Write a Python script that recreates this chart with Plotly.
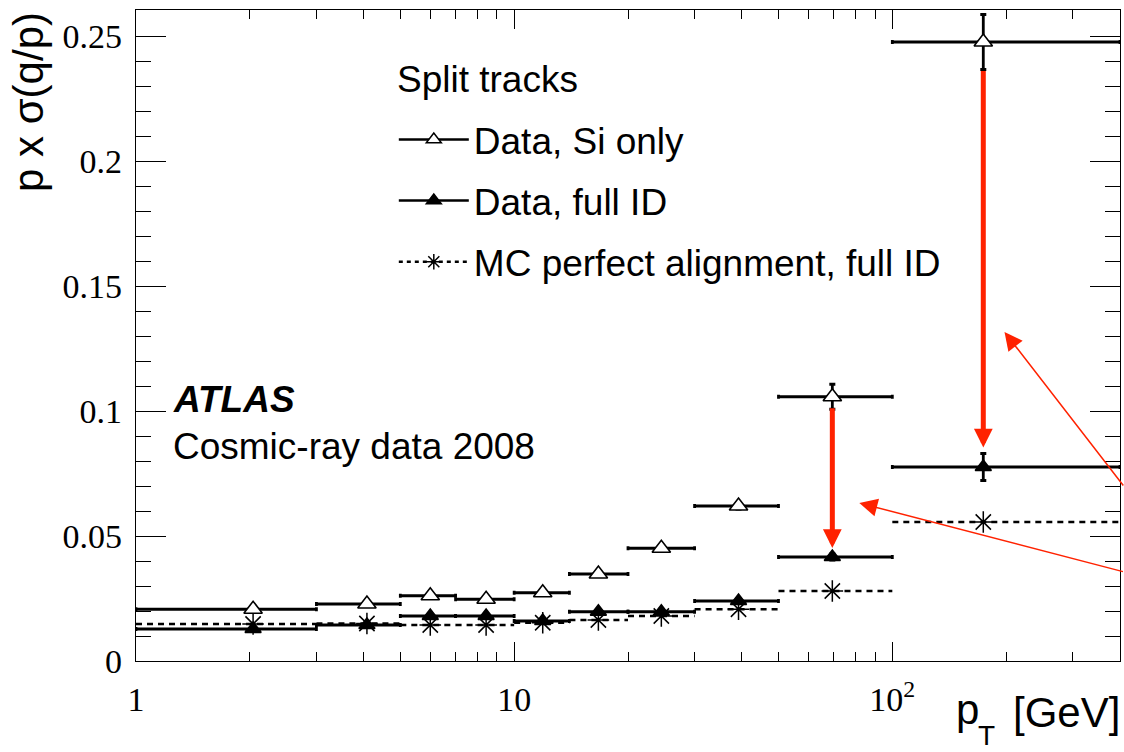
import numpy as np
import plotly.graph_objects as go

# pT bins [GeV] and the mean pT of the tracks in each bin
bin_lo = [1, 3, 5, 7, 10, 14, 20, 30, 50, 100]
bin_hi = [3, 5, 7, 10, 14, 20, 30, 50, 100, 400]
pt_mean = [2.04, 4.08, 6.0, 8.43, 11.9, 16.7, 24.5, 39.2, 69.4, 174]

# p x sigma(q/p) for the split-track samples
si_only = [0.0207, 0.0228, 0.0261, 0.0247, 0.0273, 0.0348, 0.0451, 0.0620, 0.1057, 0.2476]
si_only_err = [0.0006, 0.0006, 0.0006, 0.0006, 0.0007, 0.0008, 0.0010, 0.0012, 0.0050, 0.0110]
full_id = [0.0128, 0.0144, 0.0180, 0.0180, 0.0160, 0.0197, 0.0197, 0.0240, 0.0416, 0.0776]
full_id_err = [0.0005, 0.0005, 0.0005, 0.0005, 0.0005, 0.0006, 0.0006, 0.0008, 0.0012, 0.0054]
mc_full_id = [0.0148, 0.0150, 0.0144, 0.0144, 0.0153, 0.0164, 0.0180, 0.0207, 0.0280, 0.0556]

# bins where the Si-only -> full-ID improvement is highlighted
highlight_bins = [8, 9]

SANS = "Liberation Sans"
SERIF = "Liberation Serif"
RED = "#ff2200"
FS = 37
TITLE_FS = 42

xm = np.array(pt_mean)
ex_minus = xm - np.array(bin_lo)
ex_plus = np.array(bin_hi) - xm

fig = go.Figure()

# dashed bin-width lines for the MC sample
seg_x, seg_y = [], []
for lo, hi, v in zip(bin_lo, bin_hi, mc_full_id):
    seg_x += [lo, hi, None]
    seg_y += [v, v, None]
fig.add_trace(go.Scatter(x=seg_x, y=seg_y, mode="lines",
                         line=dict(color="black", width=2.5, dash="6px,5px"),
                         showlegend=False, hoverinfo="skip"))
fig.add_trace(go.Scatter(x=pt_mean, y=mc_full_id, mode="markers",
                         marker=dict(symbol="asterisk-open", size=18, color="black",
                                     line=dict(color="black", width=1.5)),
                         showlegend=False))

def data_trace(y, ey, fill, size):
    return go.Scatter(
        x=pt_mean, y=y, mode="markers",
        marker=dict(symbol="triangle-up", size=size, color=fill,
                    line=dict(color="black", width=1.6)),
        error_x=dict(type="data", symmetric=False, array=ex_plus, arrayminus=ex_minus,
                     color="black", thickness=2.8, width=2),
        error_y=dict(type="data", array=ey, color="black", thickness=2.8, width=3),
        showlegend=False)

fig.add_trace(data_trace(full_id, full_id_err, "black", 14))
fig.add_trace(data_trace(si_only, si_only_err, "white", 16))

# legend entries
legend_items = [
    ("Data, Si only", "triangle-up", "white", "solid"),
    ("Data, full ID", "triangle-up", "black", "solid"),
    ("MC perfect alignment, full ID", "asterisk-open", "black", "4px,4px"),
]
for i, (name, sym, col, dash) in enumerate(legend_items):
    fig.add_trace(go.Scatter(
        x=[None], y=[None], mode="lines+markers", name=name, legendgroup=str(i),
        line=dict(color="black", width=2.5, dash=dash),
        marker=dict(symbol=sym, size=13, color=col, line=dict(color="black", width=1.5))))

annotations = [
    dict(text="Split tracks", x=0.263, y=0.893, xref="paper", yref="paper",
         xanchor="left", yanchor="middle", showarrow=False, font=dict(family=SANS, size=FS)),
    dict(text="<b><i>ATLAS</i></b>", x=0.036, y=0.401, xref="paper", yref="paper",
         xanchor="left", yanchor="middle", showarrow=False, font=dict(family=SANS, size=FS)),
    dict(text="Cosmic-ray data 2008", x=0.036, y=0.330, xref="paper", yref="paper",
         xanchor="left", yanchor="middle", showarrow=False, font=dict(family=SANS, size=FS)),
    dict(text="p x σ(q/p)", x=0, xshift=-108, y=1, yshift=0, xref="paper", yref="paper",
         xanchor="center", yanchor="top", textangle=-90, showarrow=False,
         font=dict(family=SANS, size=TITLE_FS)),
    # x-axis title: p, subscript T, unit
    dict(text="[GeV]", x=1, xshift=2, y=0, yshift=-51, xref="paper", yref="paper",
         xanchor="right", yanchor="middle", showarrow=False, font=dict(family=SANS, size=TITLE_FS)),
    dict(text="p", x=1, xshift=-166, y=0, yshift=-48, xref="paper", yref="paper",
         xanchor="left", yanchor="middle", showarrow=False, font=dict(family=SANS, size=TITLE_FS)),
    dict(text="T", x=1, xshift=-144, y=0, yshift=-74, xref="paper", yref="paper",
         xanchor="left", yanchor="middle", showarrow=False, font=dict(family=SANS, size=28)),
]

# thick arrows from Si-only to full-ID resolution
for b in highlight_bins:
    xb = np.log10(pt_mean[b])
    big_err = si_only_err[b] > 0.008
    annotations.append(dict(
        x=xb, y=full_id[b] + full_id_err[b], ax=xb,
        ay=si_only[b] - si_only_err[b] if big_err else si_only[b],
        xref="x", yref="y", axref="x", ayref="y", text="", showarrow=True,
        arrowhead=2, arrowsize=0.75, arrowwidth=5, arrowcolor=RED, standoff=6,
        startstandoff=0 if big_err else 10))

# thin pointer arrows entering from the right
pointer_tips = [(198.0, 0.1316), (81.8, 0.0632)]
pointer_tails = [(411.0, 0.0696), (411.0, 0.0356)]
for (tx, ty), (sx, sy) in zip(pointer_tips, pointer_tails):
    annotations.append(dict(
        x=np.log10(tx), y=ty, ax=np.log10(sx), ay=sy, xref="x", yref="y",
        axref="x", ayref="y", text="", showarrow=True,
        arrowhead=2, arrowsize=2.4, arrowwidth=1.5, arrowcolor=RED))

fig.update_layout(
    width=1124, height=752,
    margin=dict(l=136, r=4, t=10, b=91),
    paper_bgcolor="white", plot_bgcolor="white",
    font=dict(family=SANS, size=FS, color="black"),
    annotations=annotations,
    legend=dict(
        x=0.262, y=0.848, xanchor="left", yanchor="top",
        bgcolor="rgba(0,0,0,0)", font=dict(family=SANS, size=FS),
        traceorder="grouped", tracegroupgap=10, itemwidth=70),
)

fig.update_xaxes(
    type="log", range=[0, np.log10(400)],
    tickvals=[1, 10, 100], ticktext=["1", "10", "10<sup>2</sup>"],
    ticks="inside", ticklen=19, tickwidth=1.3, tickcolor="black",
    minor=dict(tickvals=[2, 3, 4, 5, 6, 7, 8, 9, 20, 30, 40, 50, 60, 70, 80, 90, 200, 300, 400],
               ticks="inside", ticklen=9, tickwidth=1.3, tickcolor="black", showgrid=False),
    showline=True, linecolor="black", linewidth=1.3, mirror="ticks",
    showgrid=False, zeroline=False,
    tickfont=dict(family=SERIF, size=34), ticklabelstandoff=8,
)
fig.update_yaxes(
    range=[0, 0.2604],
    tickvals=[0, 0.05, 0.1, 0.15, 0.2, 0.25],
    ticktext=["0", "0.05", "0.1", "0.15", "0.2", "0.25"],
    ticks="inside", ticklen=30, tickwidth=1.3, tickcolor="black",
    minor=dict(dtick=0.01, ticks="inside", ticklen=15, tickwidth=1.3,
               tickcolor="black", showgrid=False),
    showline=True, linecolor="black", linewidth=1.3, mirror="ticks",
    showgrid=False, zeroline=False,
    tickfont=dict(family=SERIF, size=34), ticklabelstandoff=6,
)

fig.write_html("out.html")
